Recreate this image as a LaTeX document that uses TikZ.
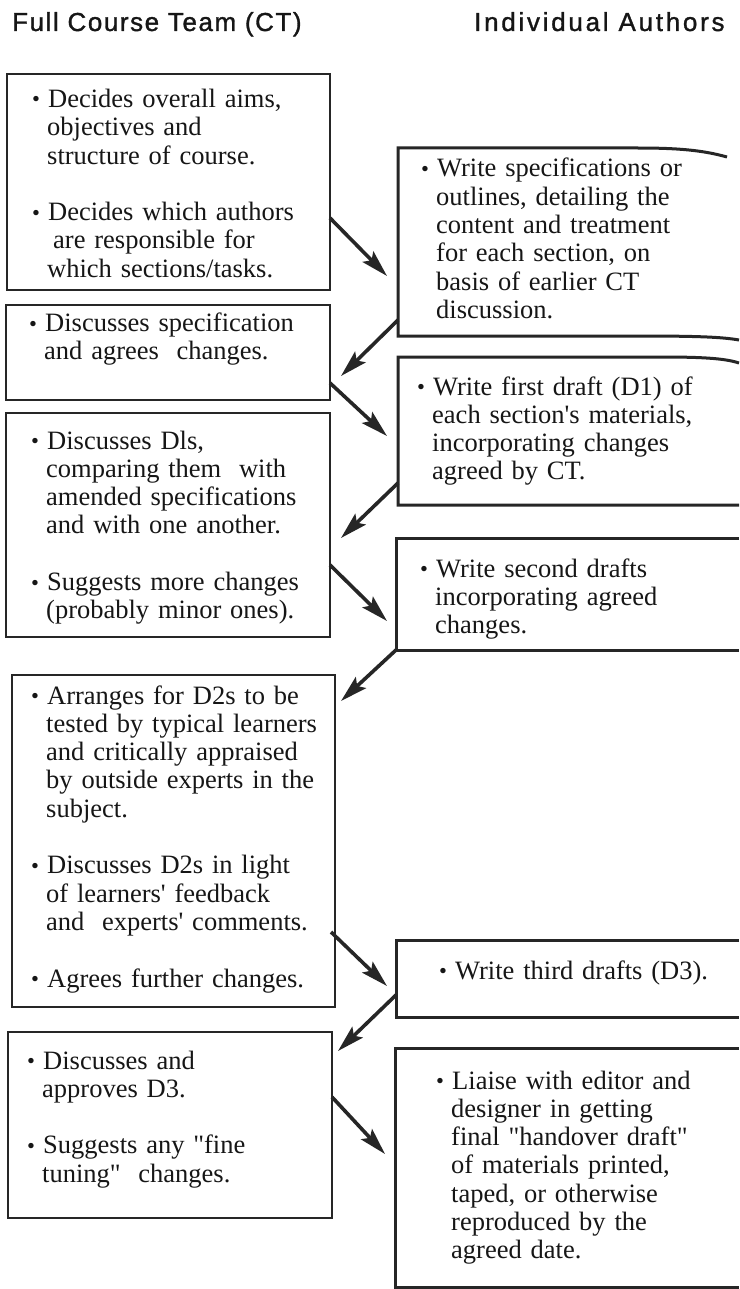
\documentclass[tikz,border=0pt]{standalone}
\usepackage{fontspec}
\usepackage{graphicx}
\usetikzlibrary{arrows.meta}
\setmainfont{Liberation Serif}[Ligatures=TeXOff]
\newfontfamily\titlefontA[LetterSpace=6,FakeBold=1.2]{Liberation Sans}
\newfontfamily\titlefontB[LetterSpace=10.5,FakeBold=1.2]{Liberation Sans}
\definecolor{ink}{HTML}{161616}
\definecolor{edge}{HTML}{262626}
\newcommand\mybul{\makebox[16pt][l]{\raisebox{0.5pt}{\scalebox{0.85}{\textbullet}}}}
\newcommand\myind{\hspace*{15pt}}
\begin{document}
\begin{tikzpicture}[x=1pt,y=-1pt,
  lbox/.style={draw=edge, line width=2.6pt, rectangle, inner sep=0pt, outer sep=0pt, anchor=north west},
  rbox/.style={rectangle, draw=none, inner sep=0pt, outer sep=0pt, anchor=north west},
  rline/.style={draw=edge, line width=3pt, line join=miter},
  txt/.style={anchor=base west, inner sep=0pt, text width=320pt, align=left, text=ink, font=\fontsize{26.5}{28.3}\selectfont},
  ttl/.style={anchor=base west, inner sep=0pt, text=ink, font=\fontsize{26}{28}\selectfont},
  flow/.style={draw=edge, line width=3.6pt, -{Stealth[length=27pt,width=15pt,inset=5pt]}},
]
\useasboundingbox[fill=white] (0,0) rectangle (739,1289);

% titles
\node[ttl] (tl) at (12,31) {\titlefontA Full Course Team (CT)};
\node[ttl] (tr) at (474,31) {\titlefontB Individual Authors};

% left boxes
\node[lbox, minimum width=323pt, minimum height=216pt] (L1) at (7,74) {};
\node[lbox, minimum width=324pt, minimum height=95pt] (L2) at (6,305) {};
\node[lbox, minimum width=324pt, minimum height=224pt] (L3) at (6,413) {};
\node[lbox, minimum width=323pt, minimum height=332pt] (L4) at (12,675) {};
\node[lbox, minimum width=324pt, minimum height=186pt] (L5) at (8,1032) {};

% right boxes (open on the right)
\node[rbox, minimum width=329pt, minimum height=188pt] (R1) at (398,148) {};
\node[rbox, minimum width=341pt, minimum height=148pt] (R2) at (398,357) {};
\node[rbox, minimum width=343pt, minimum height=112pt] (R3) at (396,538) {};
\node[rbox, minimum width=343pt, minimum height=77pt] (R4) at (396,940) {};
\node[rbox, minimum width=344pt, minimum height=239pt] (R5) at (395,1048) {};

\draw[rline] ([yshift=-9pt]R1.north east) .. controls ([xshift=-25pt,yshift=-2pt]R1.north east) and ([xshift=-50pt]R1.north east) .. ([xshift=-90pt]R1.north east) -- (R1.north west) -- (R1.south west) -- ([xshift=-90pt]R1.south east) .. controls ([xshift=-30pt]R1.south east) and ([xshift=-5pt,yshift=-1pt]R1.south east) .. ([xshift=12pt,yshift=-4pt]R1.south east);
\draw[rline] ([yshift=-6pt]R2.north east) .. controls ([xshift=-15pt,yshift=-1pt]R2.north east) and ([xshift=-40pt]R2.north east) .. ([xshift=-80pt]R2.north east) -- (R2.north west) -- (R2.south west) -- (R2.south east);
\draw[rline] (R3.north east) -- (R3.north west) -- (R3.south west) -- (R3.south east);
\draw[rline] (R4.north east) -- (R4.north west) -- (R4.south west) -- (R4.south east);
\draw[rline] (R5.north east) -- (R5.north west) -- (R5.south west) -- (R5.south east);

% texts
\node[txt] (L1t) at (32,107.5) {\mybul Decides overall aims,\\
\myind objectives and\\
\myind structure of course.\\[28.3pt]
\mybul Decides which authors\\
\hspace*{21pt}are responsible for\\
\myind which sections/tasks.};

\node[txt] (L2t) at (29,331.5) {\mybul Discusses specification\\
\myind and agrees\ \ changes.};

\node[txt] (L3t) at (31,449) {\mybul Discusses Dls,\\
\myind comparing them\ \ with\\
\myind amended specifications\\
\myind and with one another.\\[28.3pt]
\mybul Suggests more changes\\
\myind (probably minor ones).};

\node[txt] (L4t) at (31,704) {\mybul Arranges for D2s to be\\
\myind tested by typical learners\\
\myind and critically appraised\\
\myind by outside experts in the\\
\myind subject.\\[28.3pt]
\mybul Discusses D2s in light\\
\myind of learners' feedback\\
\myind and\ \ experts' comments.\\[28.3pt]
\mybul Agrees further changes.};

\node[txt] (L5t) at (27,1069) {\mybul Discusses and\\
\myind approves D3.\\[28.3pt]
\mybul Suggests any "fine\\
\myind tuning"\ \ changes.};

\node[txt] (R1t) at (421,177) {\mybul Write specifications or\\
\myind outlines, detailing the\\
\myind content and treatment\\
\myind for each section, on\\
\myind basis of earlier CT\\
\myind discussion.};

\node[txt] (R2t) at (417,395) {\mybul Write first draft (D1) of\\
\myind each section's materials,\\
\myind incorporating changes\\
\myind agreed by CT.};

\node[txt] (R3t) at (420,577) {\mybul Write second drafts\\
\myind incorporating agreed\\
\myind changes.};

\node[txt] (R4t) at (439,979) {\mybul Write third drafts (D3).};

\node[txt] (R5t) at (436,1089) {\mybul Liaise with editor and\\
\myind designer in getting\\
\myind final "handover draft"\\
\myind of materials printed,\\
\myind taped, or otherwise\\
\myind reproduced by the\\
\myind agreed date.};

% arrow ends
\coordinate (e1) at (387,276);
\coordinate (e2) at (341,376);
\coordinate (e3) at (387,436);
\coordinate (e4) at (341,538);
\coordinate (e5) at (387,621);
\coordinate (e6) at (341,701);
\coordinate (e7) at (387,986);
\coordinate (e8) at (338,1051);
\coordinate (e9) at (385,1154);

\draw[flow] ([yshift=72pt]L1.south east) -- (e1);
\draw[flow] ([yshift=16pt]R1.south west) -- (e2);
\draw[flow] ([yshift=17pt]L2.south east) -- (e3);
\draw[flow] ([yshift=22pt]R2.south west) -- (e4);
\draw[flow] ([yshift=72pt]L3.south east) -- (e5);
\draw[flow] (R3.south west) -- (e6);
\draw[flow] ([yshift=75pt,xshift=-4pt]L4.south east) -- (e7);
\draw[flow] ([yshift=22pt]R4.south west) -- (e8);
\draw[flow] ([yshift=121pt]L5.south east) -- (e9);
\end{tikzpicture}
\end{document}
